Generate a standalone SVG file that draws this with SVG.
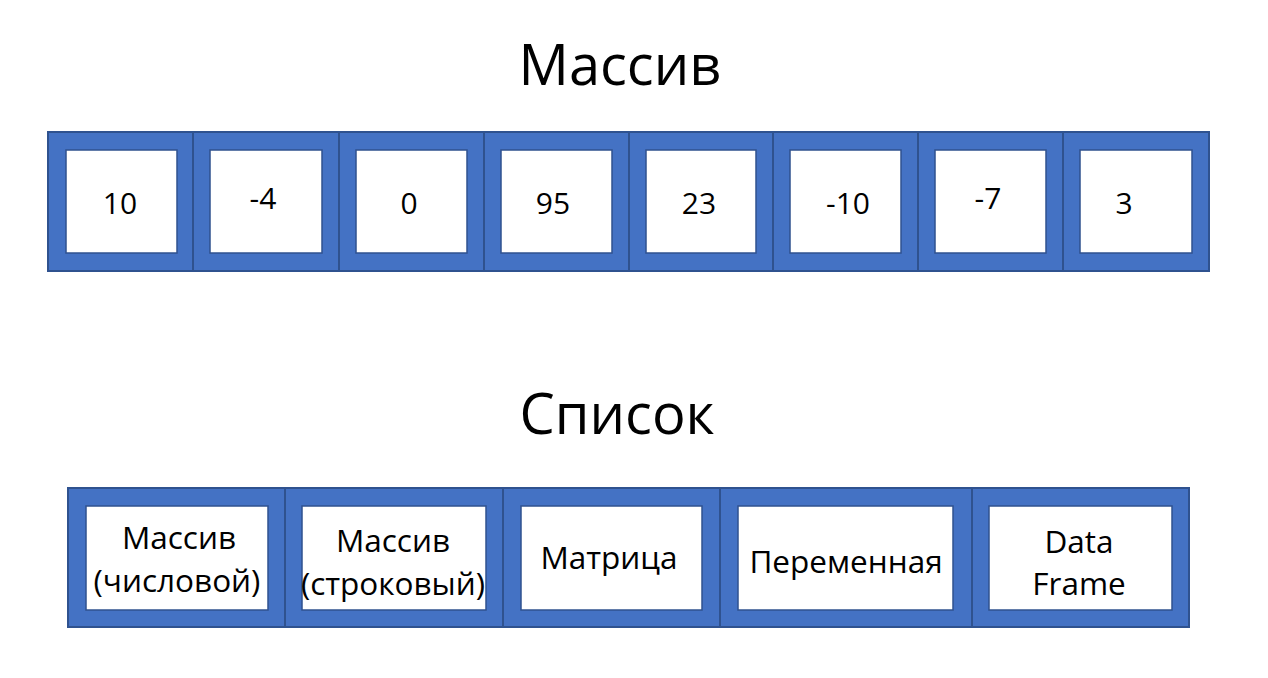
<svg xmlns="http://www.w3.org/2000/svg" width="1268" height="678" viewBox="0 0 1268 678">
<style>
.cell{fill:#4472C4;stroke:#2F528F;stroke-width:2}
.box{fill:#FFFFFF;stroke:#2F528F;stroke-width:1.5}
.t{font-family:"Open Sans","Noto Sans","Liberation Sans",sans-serif;fill:#000;text-anchor:middle}
.num{font-size:30px}
.lbl{font-size:31.5px}
.title{font-size:56px}
</style>
<rect width="1268" height="678" fill="#FFFFFF"/>
<text class="t title" x="620" y="85">Массив</text>
<text class="t title" x="617" y="434">Список</text>
<g id="array">
<g id="a1"><rect class="cell" x="48" y="132" width="145" height="139"/><rect class="box" x="66" y="150" width="111" height="103"/><text class="t num" x="120" y="214">10</text></g>
<g id="a2"><rect class="cell" x="193" y="132" width="146" height="139"/><rect class="box" x="210" y="150" width="112" height="103"/><text class="t num" x="263" y="209">-4</text></g>
<g id="a3"><rect class="cell" x="339" y="132" width="145" height="139"/><rect class="box" x="356" y="150" width="111" height="103"/><text class="t num" x="409" y="214">0</text></g>
<g id="a4"><rect class="cell" x="484" y="132" width="145" height="139"/><rect class="box" x="501" y="150" width="111" height="103"/><text class="t num" x="553" y="214">95</text></g>
<g id="a5"><rect class="cell" x="629" y="132" width="144" height="139"/><rect class="box" x="646" y="150" width="110" height="103"/><text class="t num" x="699" y="214">23</text></g>
<g id="a6"><rect class="cell" x="773" y="132" width="145" height="139"/><rect class="box" x="790" y="150" width="111" height="103"/><text class="t num" x="848" y="214">-10</text></g>
<g id="a7"><rect class="cell" x="918" y="132" width="145" height="139"/><rect class="box" x="935" y="150" width="111" height="103"/><text class="t num" x="988" y="209">-7</text></g>
<g id="a8"><rect class="cell" x="1063" y="132" width="146" height="139"/><rect class="box" x="1080" y="150" width="112" height="103"/><text class="t num" x="1124" y="214">3</text></g>
</g>
<g id="list">
<g id="l1"><rect class="cell" x="68" y="488" width="217" height="139"/><rect class="box" x="86" y="506" width="182" height="104"/><text class="t lbl" x="179" y="549">Массив</text><text class="t lbl" x="177" y="592">(числовой)</text></g>
<g id="l2"><rect class="cell" x="285" y="488" width="218" height="139"/><rect class="box" x="302" y="506" width="184" height="104"/><text class="t lbl" x="393" y="552">Массив</text><text class="t lbl" x="393" y="595">(строковый)</text></g>
<g id="l3"><rect class="cell" x="503" y="488" width="217" height="139"/><rect class="box" x="521" y="506" width="181" height="104"/><text class="t lbl" x="609" y="569">Матрица</text></g>
<g id="l4"><rect class="cell" x="720" y="488" width="252" height="139"/><rect class="box" x="738" y="506" width="215" height="104"/><text class="t lbl" x="846" y="573">Переменная</text></g>
<g id="l5"><rect class="cell" x="972" y="488" width="217" height="139"/><rect class="box" x="989" y="506" width="183" height="104"/><text class="t lbl" x="1079" y="553">Data</text><text class="t lbl" x="1079" y="595">Frame</text></g>
</g>
<g id="connectors"/>
</svg>
